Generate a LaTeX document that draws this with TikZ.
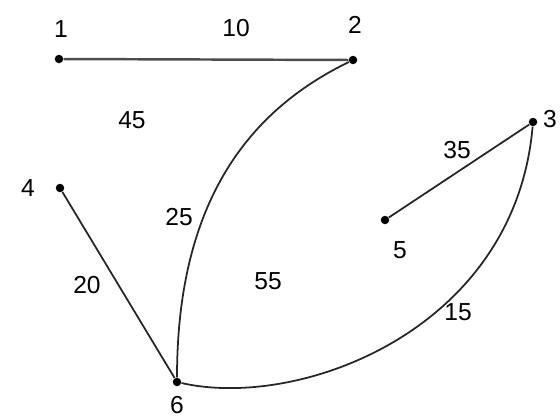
\documentclass[tikz,border=0pt]{standalone}
\usepackage{fontspec}
\setmainfont{Liberation Sans}
\usepackage{tikz}
\usetikzlibrary{positioning,calc}

\begin{document}
\begin{tikzpicture}[x=0.02cm, y=-0.02cm,
    vertex/.style={circle, fill=black, inner sep=0pt, minimum size=0.17cm},
    num/.style={inner sep=1pt, font=\fontsize{14}{16}\selectfont},
    edge/.style={line width=1pt, black!85}]

\useasboundingbox (0,0) rectangle (560,419);

% Vertices (pixel-like coordinates, y pointing down)
\node[vertex] (v1) at (59,59) {};
\node[vertex] (v2) at (353,60) {};
\node[vertex] (v3) at (533,122) {};
\node[vertex] (v4) at (60,188) {};
\node[vertex] (v5) at (385,220) {};
\node[vertex] (v6) at (177,382) {};

% Vertex numbers
\node[num] (n1) at (61,29) {1};
\node[num] (n2) at (355,25) {2};
\node[num] (n3) at (550,119) {3};
\node[num] (n4) at (28,188) {4};
\node[num] (n5) at (400,250) {5};
\node[num] (n6) at (177,405) {6};

% Edges
\draw[edge, line width=1.4pt, black!70] (v1) -- (v2);
\draw[edge] (v4) -- (v6);
\draw[edge] (v3) -- (v5);
\draw[edge] (v2) .. controls (250,110) and (177,200) .. (v6);
\draw[edge] (v6) .. controls (300,410) and (515,330) .. (v3);

% Edge weights
\node[num] (w12) at (236,28) {10};
\node[num] (w26) at (179,217) {25};
\node[num] (w46) at (87,285) {20};
\node[num] (w35) at (457,150) {35};
\node[num] (w36) at (458,312) {15};

% Face weights
\node[num] (f1) at (132,120) {45};
\node[num] (f2) at (268,281) {55};

\end{tikzpicture}
\end{document}
